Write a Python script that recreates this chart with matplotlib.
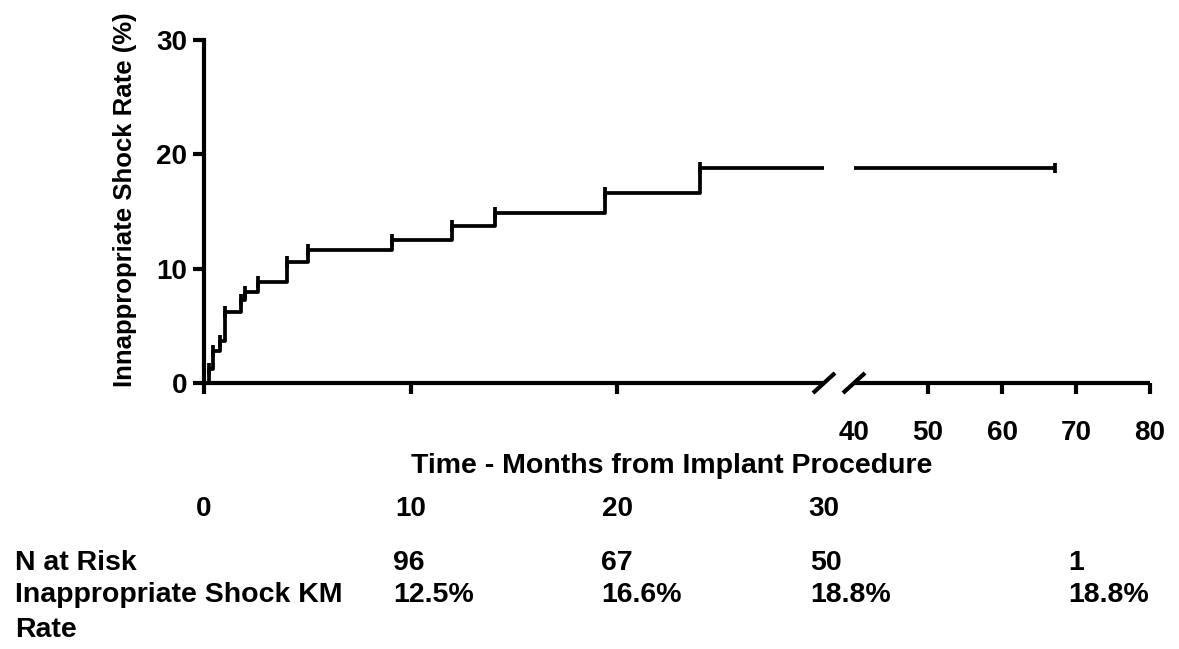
import matplotlib
matplotlib.use("Agg")
import matplotlib.pyplot as plt

plt.rcParams['font.family'] = ['Liberation Sans', 'DejaVu Sans']
plt.rcParams['font.weight'] = 'bold'

# ---- data ----
event_times = [0.25, 0.45, 0.77, 1.02, 1.8, 2.0, 2.6, 4.0, 5.05, 9.1, 12.0, 14.1, 19.4, 24.0]
event_rates = [1.2, 2.8, 3.7, 6.2, 7.3, 8.0, 8.8, 10.6, 11.6, 12.5, 13.7, 14.9, 16.6, 18.8]
last_followup = 67.2
left_ticks = [0, 10, 20, 30]
right_ticks = [40, 50, 60, 70, 80]
y_ticks = [0, 10, 20, 30]
risk_row1 = 'N at Risk'
risk_row2 = ['Inappropriate Shock KM', 'Rate']
n_at_risk = ['96', '67', '50', '1']
km_rate = ['12.5%', '16.6%', '18.8%', '18.8%']

W, H = 1179, 649
fx = lambda px: px / W
fy = lambda py: 1 - py / H

fig = plt.figure(figsize=(W / 100, H / 100), dpi=100)
ax1 = fig.add_axes([fx(204), fy(383), fx(824) - fx(204), fy(40) - fy(383)])
ax2 = fig.add_axes([fx(854), fy(383), fx(1150) - fx(854), fy(40) - fy(383)])

FS = 20.5

# step curve
xs = [0.0] + event_times + [last_followup]
ys = [0.0] + event_rates + [event_rates[-1]]
lw_curve = 2.7
for ax in (ax1, ax2):
    ax.step(xs, ys, where='post', color='black', lw=lw_curve, solid_capstyle='butt',
            clip_on=True)
    ax.set_ylim(0, 30)
ax1.plot(event_times, event_rates, ls='none', marker='|', ms=9, mew=2.7, color='black')
ax2.plot([last_followup], [event_rates[-1]], ls='none', marker='|', ms=7, mew=2.7, color='black')

ax1.set_xlim(0, 30)
ax2.set_xlim(40, 80)

spine_lw = 3.0
for ax in (ax1, ax2):
    for s in ('top', 'right'):
        ax.spines[s].set_visible(False)
    ax.spines['bottom'].set_linewidth(spine_lw)
    ax.spines['left'].set_linewidth(spine_lw)
    ax.spines['bottom'].set_capstyle('butt')
ax2.spines['left'].set_visible(False)
ax2.set_yticks([])

ax1.set_yticks(y_ticks)
ax1.set_yticklabels([str(v) for v in y_ticks], fontsize=20, fontweight='bold')
ax1.tick_params(axis='y', length=8, width=3.0, pad=4)

ax1.set_xticks(left_ticks)
ax1.set_xticklabels([str(v) for v in left_ticks], fontsize=20, fontweight='bold')
ax1.tick_params(axis='x', length=8, width=3.0, pad=73)
ax1.xaxis.get_major_ticks()[3].tick1line.set_visible(False)

ax2.set_xticks(right_ticks)
ax2.set_xticklabels([str(v) for v in right_ticks], fontsize=20, fontweight='bold')
ax2.tick_params(axis='x', length=8, width=3.0, pad=19)
ax2.xaxis.get_major_ticks()[0].tick1line.set_visible(False)

# break marks
d1x, dy1 = 11 / 620, 10 / 343
ax1.plot([1 - d1x, 1 + d1x], [-dy1, dy1], transform=ax1.transAxes, color='black',
         lw=3.0, clip_on=False, solid_capstyle='butt')
d2x = 11 / 296
ax2.plot([-d2x, d2x], [-dy1, dy1], transform=ax2.transAxes, color='black',
         lw=3.0, clip_on=False, solid_capstyle='butt')

# labels
fig.text(fx(125), fy(200), 'Innappropriate Shock Rate (%)', rotation=90,
         ha='center', va='center', fontsize=18.5, fontweight='bold')
fig.text(fx(672), fy(473), 'Time - Months from Implant Procedure', ha='center',
         va='baseline', fontsize=FS, fontweight='bold')

# risk table
fig.text(fx(15), fy(570), risk_row1, ha='left', va='baseline', fontsize=FS,
         fontweight='bold')
fig.text(fx(15), fy(602), risk_row2[0], ha='left', va='baseline', fontsize=FS,
         fontweight='bold')
fig.text(fx(15), fy(637), risk_row2[1], ha='left', va='baseline', fontsize=FS,
         fontweight='bold')
col_x = [393, 601, 810, 1068]
for cx, n, r in zip(col_x, n_at_risk, km_rate):
    fig.text(fx(cx), fy(570), n, ha='left', va='baseline', fontsize=FS, fontweight='bold')
    fig.text(fx(cx), fy(602), r, ha='left', va='baseline', fontsize=FS, fontweight='bold')

fig.savefig('out.png', dpi=100, facecolor='white')
